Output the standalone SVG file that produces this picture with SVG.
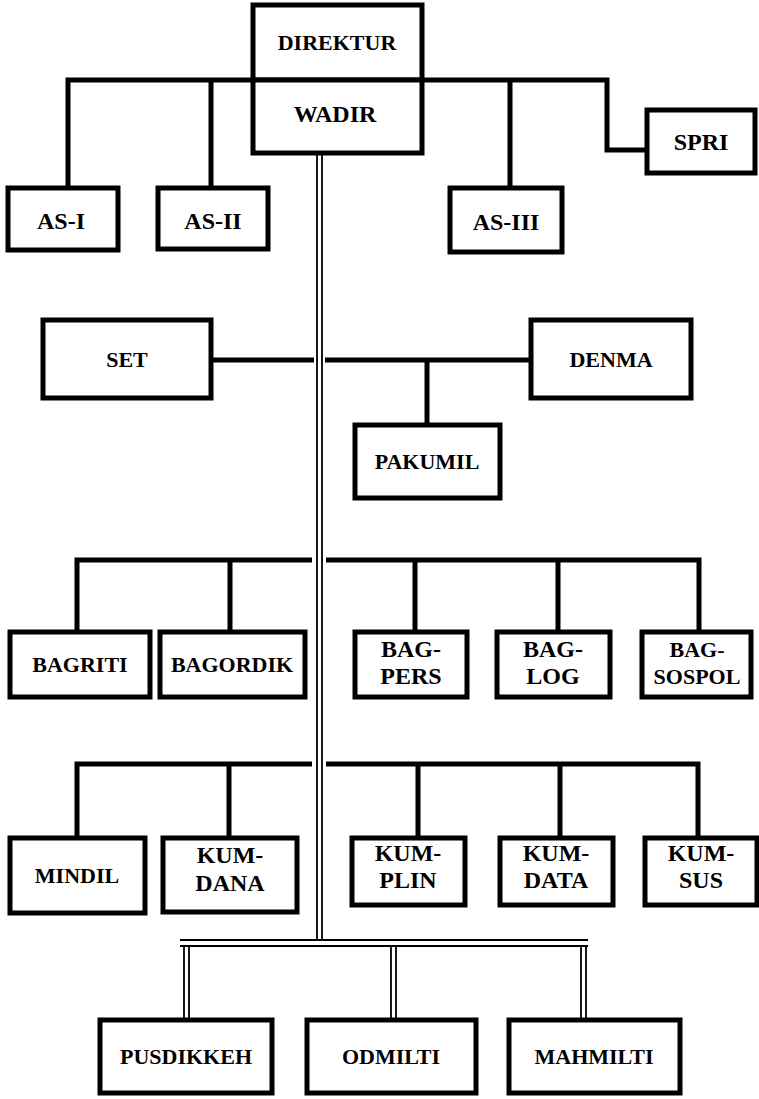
<svg xmlns="http://www.w3.org/2000/svg" width="759" height="1099" viewBox="0 0 759 1099">
<style>
.box{fill:#fff;stroke:#000;stroke-width:5}
.ln{stroke:#000;stroke-width:5;fill:none}
.dl{stroke:#000;stroke-width:1.8;fill:none}
text{font-family:"Liberation Serif",serif;font-weight:bold;font-size:22px;text-anchor:middle;fill:#000}
.big{font-size:24px}
</style>
<rect width="759" height="1099" fill="#fff"/>
<g id="connectors">
<path class="ln" d="M68,188 V80 H253 M211,80 V188 M422,80 H607 V150 H647 M510,80 V188"/>
<path class="dl" d="M317,153 V940 M322,153 V940"/>
<path class="ln" d="M211,360 H314 M325,360 H531 M427,360 V425"/>
<path class="ln" d="M77,632 V560 H312 M230,560 V632 M326,560 H699 V632 M415,560 V632 M558,560 V632"/>
<path class="ln" d="M77,838 V764 H312 M229,764 V838 M326,764 H698 V838 M418,764 V838 M560,764 V838"/>
<path class="dl" d="M180,940 H588 M180,946 H588 M184,946 V1020 M189,946 V1020 M391,946 V1020 M396,946 V1020 M581,946 V1020 M586,946 V1020"/>
</g>
<g id="direktur"><rect class="box" x="253" y="5" width="169" height="75"/><text x="337" y="50">DIREKTUR</text></g>
<g id="wadir"><rect class="box" x="253" y="80" width="169" height="73"/><text x="335" y="122" class="big">WADIR</text></g>
<g id="as1"><rect class="box" x="8" y="188" width="110" height="62"/><text x="61" y="229" class="big">AS-I</text></g>
<g id="as2"><rect class="box" x="158" y="188" width="110" height="61"/><text x="213" y="229" class="big">AS-II</text></g>
<g id="as3"><rect class="box" x="450" y="188" width="112" height="64"/><text x="506" y="230" class="big">AS-III</text></g>
<g id="spri"><rect class="box" x="647" y="110" width="108" height="63"/><text x="701" y="150" class="big">SPRI</text></g>
<g id="set"><rect class="box" x="43" y="320" width="168" height="78"/><text x="127" y="367">SET</text></g>
<g id="denma"><rect class="box" x="531" y="320" width="160" height="78"/><text x="611" y="367">DENMA</text></g>
<g id="pakumil"><rect class="box" x="355" y="425" width="145" height="73"/><text x="427" y="469">PAKUMIL</text></g>
<g id="bagriti"><rect class="box" x="10" y="632" width="140" height="65"/><text x="80" y="672">BAGRITI</text></g>
<g id="bagordik"><rect class="box" x="160" y="632" width="145" height="65"/><text x="232" y="672">BAGORDIK</text></g>
<g id="bagpers"><rect class="box" x="355" y="632" width="112" height="65"/><text x="411" y="657" class="big">BAG-</text><text x="411" y="684" class="big">PERS</text></g>
<g id="baglog"><rect class="box" x="497" y="632" width="113" height="65"/><text x="553" y="657" class="big">BAG-</text><text x="553" y="684" class="big">LOG</text></g>
<g id="bagsospol"><rect class="box" x="642" y="632" width="109" height="65"/><text x="697" y="657">BAG-</text><text x="697" y="684">SOSPOL</text></g>
<g id="mindil"><rect class="box" x="10" y="838" width="135" height="75"/><text x="77" y="883">MINDIL</text></g>
<g id="kumdana"><rect class="box" x="163" y="838" width="134" height="74"/><text x="230" y="863" class="big">KUM-</text><text x="230" y="891" class="big">DANA</text></g>
<g id="kumplin"><rect class="box" x="352" y="838" width="113" height="67"/><text x="408" y="861" class="big">KUM-</text><text x="408" y="888" class="big">PLIN</text></g>
<g id="kumdata"><rect class="box" x="500" y="838" width="113" height="67"/><text x="556" y="861" class="big">KUM-</text><text x="556" y="888" class="big">DATA</text></g>
<g id="kumsus"><rect class="box" x="645" y="838" width="112" height="67"/><text x="701" y="861" class="big">KUM-</text><text x="701" y="888" class="big">SUS</text></g>
<g id="pusdikkeh"><rect class="box" x="100" y="1020" width="172" height="73"/><text x="186" y="1064">PUSDIKKEH</text></g>
<g id="odmilti"><rect class="box" x="307" y="1020" width="169" height="73"/><text x="391" y="1064">ODMILTI</text></g>
<g id="mahmilti"><rect class="box" x="509" y="1020" width="171" height="73"/><text x="594" y="1064">MAHMILTI</text></g>
</svg>
